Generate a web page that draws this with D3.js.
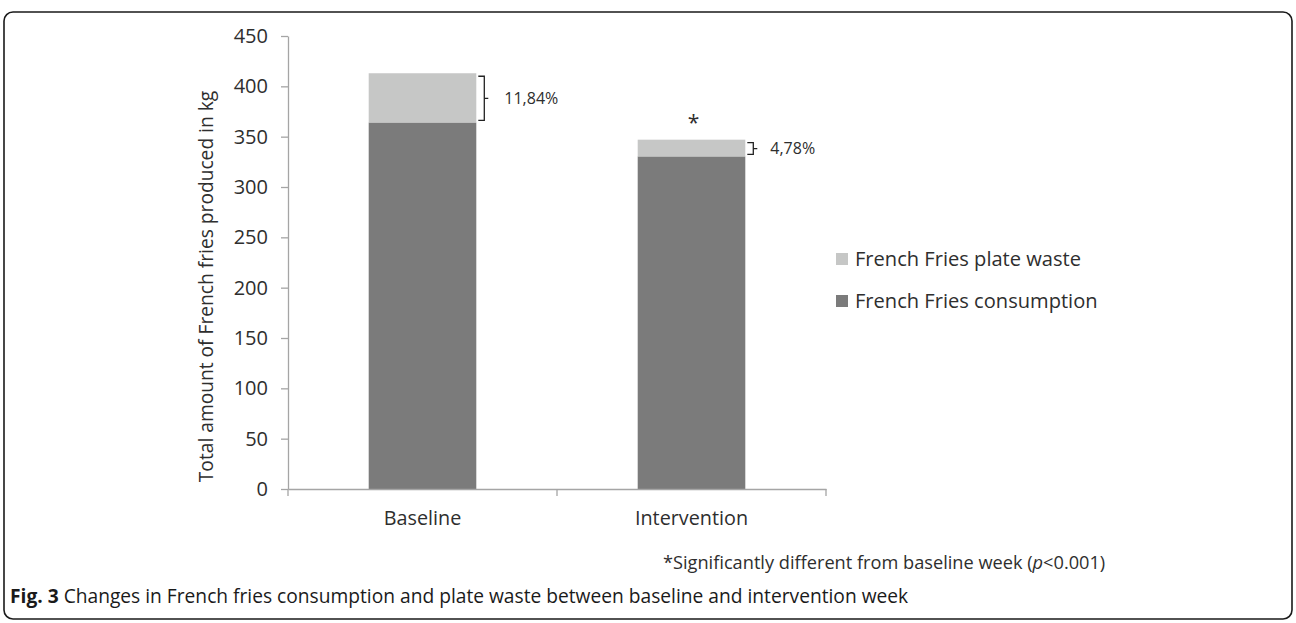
<!DOCTYPE html>
<html>
<head>
<meta charset="utf-8">
<script src="https://cdn.jsdelivr.net/npm/d3@7"></script>
<style>
  html, body { margin: 0; padding: 0; background: #fff; }
  svg { display: block; font-family: "Open Sans", "DejaVu Sans", sans-serif; font-weight: 400; }
</style>
</head>
<body>
<svg id="chart" width="1296" height="623"></svg>
<script>
// ---- Data ----
const categories = ["Baseline", "Intervention"];
const consumption = [364.1, 330.4];
const plateWaste = [48.9, 16.6];
const wasteLabels = ["11,84%", "4,78%"];
const significant = [false, true];
const yTicks = [0, 50, 100, 150, 200, 250, 300, 350, 400, 450];
const seriesNames = ["French Fries plate waste", "French Fries consumption"];
const colors = { waste: "#c6c7c6", consumption: "#7b7b7b" };

const svg = d3.select("#chart");

// Frame
svg.append("rect")
  .attr("x", 4).attr("y", 12).attr("width", 1288).attr("height", 607)
  .attr("rx", 9).attr("ry", 9)
  .attr("fill", "none").attr("stroke", "#1a1a1a").attr("stroke-width", 1.6);

const plot = { left: 288, right: 826, top: 36, bottom: 489 };

const x = d3.scaleBand().domain(categories)
  .range([plot.left, plot.right]).paddingInner(0.6).paddingOuter(0.3);
const xCat = d3.scaleBand().domain(categories).range([plot.left, plot.right]);
const y = d3.scaleLinear().domain([0, 450]).range([plot.bottom, plot.top]);

const textColor = "#2e2e2e";
const axisColor = "#a5a5a5";
const fs = "19.8px";

// Bars
const data = categories.map((c, i) => ({
  cat: c, cons: consumption[i], waste: plateWaste[i],
  total: consumption[i] + plateWaste[i], label: wasteLabels[i], sig: significant[i]
}));

svg.selectAll("rect.cons").data(data).enter().append("rect")
  .attr("class", "cons")
  .attr("x", d => x(d.cat)).attr("width", x.bandwidth())
  .attr("y", d => y(d.cons)).attr("height", d => y(0) - y(d.cons))
  .attr("fill", colors.consumption);

svg.selectAll("rect.waste").data(data).enter().append("rect")
  .attr("class", "waste")
  .attr("x", d => x(d.cat)).attr("width", x.bandwidth())
  .attr("y", d => y(d.total)).attr("height", d => y(d.cons) - y(d.total))
  .attr("fill", colors.waste);

// Y axis
const yAxis = d3.axisLeft(y).tickValues(yTicks).tickSize(7).tickPadding(13).tickSizeOuter(0);
const gy = svg.append("g").attr("transform", `translate(${plot.left},0)`).call(yAxis);
gy.select(".domain").attr("stroke", axisColor).attr("stroke-width", 1.3);
gy.selectAll(".tick line").attr("stroke", axisColor).attr("stroke-width", 1.3);
gy.selectAll(".tick text").attr("fill", textColor)
  .style("font-size", "20px").style("font-family", "'Open Sans', sans-serif");

// X axis
const gx = svg.append("g").attr("transform", `translate(0,${plot.bottom})`)
  .call(d3.axisBottom(xCat).tickSize(0).tickPadding(22));
gx.select(".domain").attr("stroke", axisColor).attr("stroke-width", 1.3);
gx.selectAll(".tick text").attr("fill", textColor)
  .style("font-size", fs).style("font-family", "'Open Sans', sans-serif");
// category boundary ticks
const bounds = [plot.left, plot.left + xCat.step(), plot.right];
gx.selectAll("line.bound").data(bounds).enter().append("line")
  .attr("class", "bound")
  .attr("x1", d => d).attr("x2", d => d).attr("y1", 0).attr("y2", 7)
  .attr("stroke", axisColor).attr("stroke-width", 1.3);

// Y axis title
svg.append("text")
  .attr("transform", `translate(213,${(plot.top + plot.bottom) / 2 + 24}) rotate(-90)`)
  .attr("text-anchor", "middle")
  .attr("fill", textColor)
  .style("font-size", "19.2px")
  .text("Total amount of French fries produced in kg");

// Brackets
data.forEach((d, i) => {
  const x0 = x(d.cat) + x.bandwidth() + 2;
  const x1 = x0 + 6;
  const t = y(d.total) + 3;
  const b = y(d.cons) - 2;
  const m = (t + b) / 2;
  svg.append("path")
    .attr("d", `M${x0},${t} H${x1} V${b} H${x0} M${x1},${m} H${x1 + 4}`)
    .attr("fill", "none").attr("stroke", "#222").attr("stroke-width", 1.3);
  svg.append("text")
    .attr("x", x1 + (i === 0 ? 20 : 17)).attr("y", m).attr("dy", "0.35em")
    .attr("fill", textColor).style("font-size", "16px")
    .text(d.label);
  if (d.sig) {
    svg.append("text")
      .attr("x", x(d.cat) + x.bandwidth() / 2 + 2).attr("y", y(d.total) - 10)
      .attr("text-anchor", "middle")
      .attr("fill", textColor).style("font-size", "21px")
      .text("*");
  }
});

// Legend
const legendKeys = ["waste", "consumption"];
const lg = svg.append("g").attr("transform", "translate(836,253)");
legendKeys.forEach((k, i) => {
  const g = lg.append("g").attr("transform", `translate(0,${i * 42})`);
  g.append("rect").attr("width", 12).attr("height", 12).attr("fill", colors[k]);
  g.append("text").attr("x", 19).attr("y", 6).attr("dy", "0.36em")
    .attr("fill", textColor).style("font-size", "20.1px")
    .text(seriesNames[i]);
});

// Footnote
const fn = svg.append("text").attr("x", 663).attr("y", 569)
  .attr("fill", textColor).style("font-size", "18.2px");
fn.append("tspan").text("*Significantly different from baseline week (");
fn.append("tspan").style("font-style", "italic").text("p");
fn.append("tspan").text("<0.001)");

// Caption
const cap = svg.append("text").attr("x", 10).attr("y", 603)
  .attr("fill", "#1a1a1a").style("font-size", "19.2px");
cap.append("tspan").style("font-weight", "bold").text("Fig. 3");
cap.append("tspan").text(" Changes in French fries consumption and plate waste between baseline and intervention week");
</script>
</body>
</html>
